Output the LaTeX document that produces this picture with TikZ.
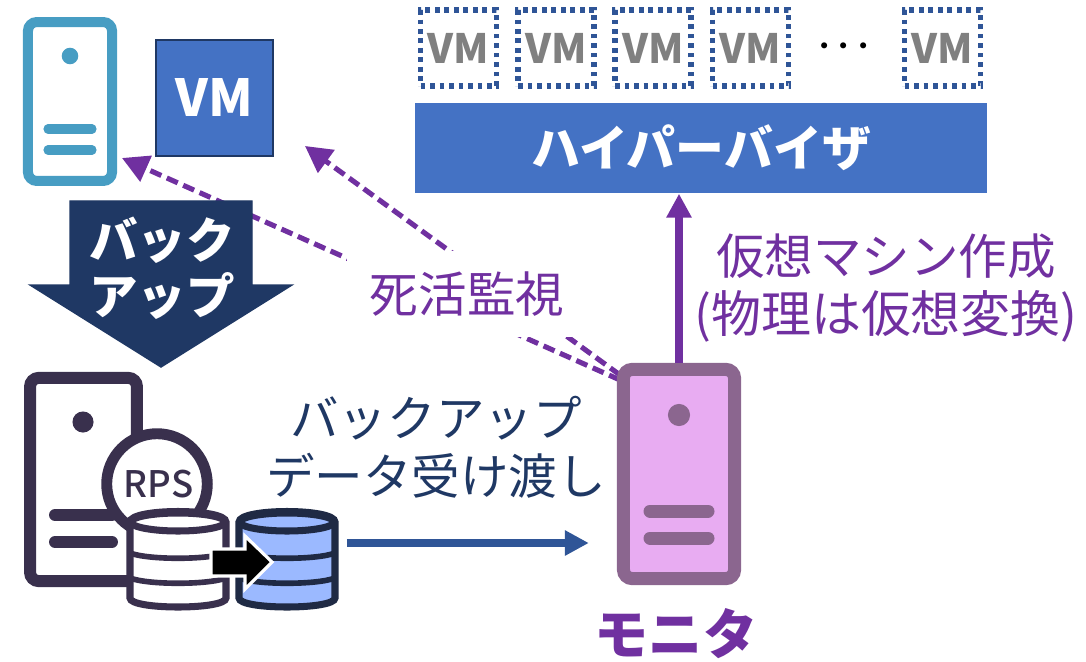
\documentclass[tikz,border=0pt]{standalone}
\usepackage{fontspec}
\setmainfont{Noto Sans CJK JP}
\newfontfamily\rpsfont{Noto Sans CJK JP Medium}
\usetikzlibrary{arrows.meta}
\definecolor{vmblue}{HTML}{4472C4}
\definecolor{navy}{HTML}{1F3864}
\definecolor{linkblue}{HTML}{2F5597}
\definecolor{watch}{HTML}{7030A0}
\definecolor{srvcyan}{HTML}{479DC3}
\definecolor{srvdark}{HTML}{39304D}
\definecolor{srvmauve}{HTML}{8B668F}
\definecolor{srvpink}{HTML}{E8ACF2}
\definecolor{dbblue}{HTML}{9BB9FF}
\definecolor{dbedge}{HTML}{1F2A44}
\tikzset{serverbox/.style={draw,fill=white,rounded corners=2.5pt,inner sep=0pt}}
\tikzset{bar/.style={line cap=round}}
\tikzset{label/.style={inner sep=0pt,align=center,font=\fontsize{13.8}{16.6}\selectfont}}
\tikzset{vmdots/.style={draw=linkblue,line width=1.6pt,dash pattern=on 1.35pt off 1.35pt,inner sep=0pt,
    minimum width=21.6pt,minimum height=21.6pt,text=gray,font=\fontsize{11.5}{14}\selectfont\bfseries}}
\tikzset{watchline/.style={-{Triangle[length=7.5pt,width=7.8pt]},draw=watch,line width=1.45pt,dash pattern=on 3.4pt off 1.7pt}}
\tikzset{solidline/.style={-{Triangle[length=6.8pt,width=6.8pt]},line width=2.1pt}}
\newcommand{\dbicon}[3]{%
  \begin{scope}[shift={(#1,0)},draw=#2,line width=2pt]
    \draw[fill=#3] (-48,522) -- (-48,598) .. controls (-48,610) and (48,610) .. (48,598) -- (48,522)
      .. controls (48,508) and (-48,508) .. cycle;
    \draw[fill=#3] (0,522) ellipse [x radius=47,y radius=9];
    \draw[line width=1.6pt] (-48,553) .. controls (-30,560) and (30,560) .. (48,553);
    \draw[line width=1.6pt] (-48,578) .. controls (-30,585) and (30,585) .. (48,578);
  \end{scope}}

\begin{document}
\begin{tikzpicture}[x=0.01cm,y=-0.01cm]
  \useasboundingbox (0,0) rectangle (1086,661);

  % arrows to the watched machines
  \coordinate (watchserver) at (620,380);
  \coordinate (watchvm) at (620,375);
  \coordinate (tipserver) at (122,158);
  \coordinate (tipvm) at (305,146);
  \draw[watchline] (watchserver) -- (tipserver);
  \draw[watchline] (watchvm) -- (tipvm);
  \node[label,fill=white,text=watch,minimum width=68.3pt,minimum height=24.5pt] (alive) at (467,294) {死活監視};

  % source server and vm
  \node[serverbox,draw=srvcyan,line width=2.85pt,minimum width=23.9pt,minimum height=45.2pt] (srcserver) at (70,101.5) {};
  \node[circle,fill=srvcyan,inner sep=0pt,minimum size=4.7pt] (srcdot) at (70,56) {};
  \foreach \y in {129,150}
    \draw[bar,srvcyan,line width=2.6pt] (48,\y) -- (92,\y);
  \node[draw=navy,fill=vmblue,line width=.8pt,minimum width=33.3pt,minimum height=33pt,inner sep=0pt,
    text=white,font=\fontsize{14.5}{16}\selectfont\bfseries] (srcvm) at (214.5,98) {VM};

  % backup arrow
  \draw[navy,fill=navy,line width=.4pt] (70,201) -- (252,201) -- (252,285) -- (292,285) -- (161,367) -- (30,285) -- (70,285) -- cycle;
  \node[label,text=white,font=\fontsize{13.8}{16}\selectfont\bfseries] (backup) at (162,268) {バック\\アップ};

  % hypervisor and guests
  \node[fill=vmblue,minimum width=162.7pt,minimum height=25.6pt,inner sep=0pt,text=white,
    font=\fontsize{13.9}{16}\selectfont\bfseries] (hyper) at (701,148) {ハイパーバイザ};
  \foreach \name/\x in {vma/458.5,vmb/556,vmc/653,vmd/750.5,vme/942.5}
    \node[vmdots] (\name) at (\x,48) {VM};
  \node[inner sep=0pt,font=\fontsize{10.5}{12}\selectfont\boldmath] (more) at (844,46) {$\cdots$};

  % backup server
  \node[serverbox,draw=srvdark,line width=3.4pt,minimum width=30.4pt,minimum height=57.8pt] (rpsserver) at (83.5,479.5) {};
  \node[circle,fill=srvdark,inner sep=0pt,minimum size=6pt] (rpsdot) at (83,422) {};
  \foreach \y/\e in {515/112,542/112}
    \draw[bar,srvdark,line width=3.4pt] (55,\y) -- (\e,\y);
  \node[circle,draw=srvdark,fill=white,line width=3.1pt,minimum size=28.6pt,inner sep=0pt,
    text=srvdark,font=\fontsize{10.4}{12}\rpsfont] (rps) at (157,484) {\raisebox{-1pt}{\hspace{1pt}RPS}};
  \dbicon{178}{srvdark}{white}
  \dbicon{287}{dbedge}{dbblue}
  \node[inner sep=0pt,minimum width=29pt,minimum height=20pt] (dbcopy) at (287,543) {};
  \draw[fill=black,draw=white,line width=.9pt] (211,549) -- (245,549) -- (245,536) -- (272,562) -- (245,589) -- (245,576) -- (211,576) -- cycle;

  % monitor
  \node[serverbox,draw=srvmauve,fill=srvpink,line width=3.7pt,minimum width=31.6pt,minimum height=59.5pt] (monitor) at (679,474) {};
  \node[circle,fill=srvmauve,inner sep=0pt,minimum size=6.3pt] (mondot) at (679,415) {};
  \foreach \y in {511,538}
    \draw[bar,srvmauve,line width=3.7pt] (650,\y) -- (708,\y);
  \node[label,text=watch,font=\fontsize{15.4}{18}\selectfont\bfseries] (monlabel) at (676,634) {モニタ};

  % links
  \draw[solidline,watch] (monitor.north) -- (monitor.north |- hyper.south);
  \draw[solidline,linkblue,shorten <=2.3pt,shorten >=8pt] (dbcopy.east) -- (dbcopy.east -| monitor.west);
  \node[label,text=watch] (create) at (886,288) {仮想マシン作成\\\fontsize{14.2}{16.6}\selectfont(物理は仮想変換)};
  \node[label,text=navy] (handover) at (436,447) {バックアップ\\データ受け渡し};
\end{tikzpicture}
\end{document}
